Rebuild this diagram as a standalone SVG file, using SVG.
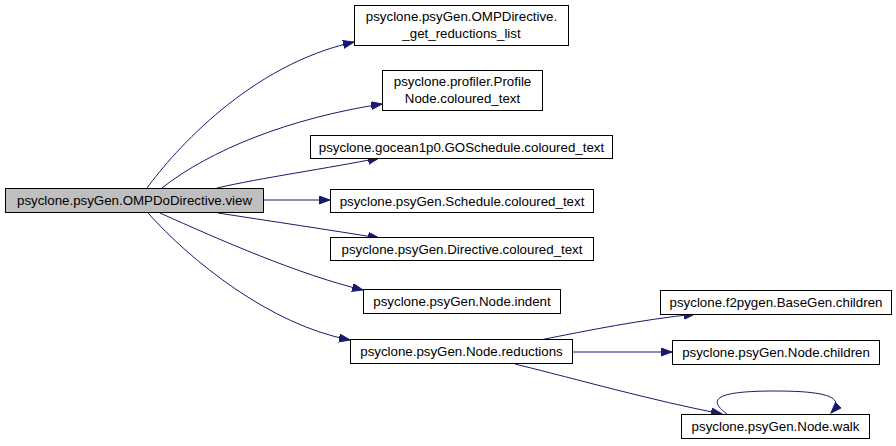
<svg xmlns="http://www.w3.org/2000/svg" width="896" height="446" viewBox="0 0 896 446">
<defs>
<style>
.n rect{fill:#fff;stroke:#000;stroke-width:1}
.n text{font-family:"Liberation Sans",Arial,sans-serif;font-size:13.3px;text-anchor:middle;fill:#000}
.e path{fill:none;stroke:#191970;stroke-width:1}
</style>
<marker id="a" markerUnits="userSpaceOnUse" markerWidth="12" markerHeight="9" refX="11" refY="4" orient="auto">
<path d="M0,0 L11,4 L0,8 z" fill="#191970" stroke="#191970"/>
</marker>
</defs>
<rect width="896" height="446" fill="#fff"/>
<g class="e">
<path d="M147,188 C175,150 250,65 354,42" marker-end="url(#a)"/>
<path d="M162,188 C210,150 290,118 382,104" marker-end="url(#a)"/>
<path d="M217,188 C260,178 330,168 379,158" marker-end="url(#a)"/>
<path d="M263,200 L330,200" marker-end="url(#a)"/>
<path d="M218,213 C270,221 330,230 379,238" marker-end="url(#a)"/>
<path d="M160,213 C220,240 300,275 363,290" marker-end="url(#a)"/>
<path d="M148,213 C190,260 270,325 350,340" marker-end="url(#a)"/>
<path d="M540,340 C590,330 640,320 695,314" marker-end="url(#a)"/>
<path d="M572,352 L672,352" marker-end="url(#a)"/>
<path d="M515,364 C580,380 650,400 722,414" marker-end="url(#a)"/>
<path d="M727,414 C705,398 720,391 775,391 C830,391 845,398 831,413" marker-end="url(#a)"/>
</g>
<g id="view" class="n"><rect x="5.5" y="188.5" width="258" height="24" style="fill:#bfbfbf"/><text x="134.5" y="205">psyclone.psyGen.OMPDoDirective.view</text></g>
<g id="getred" class="n"><rect x="354.5" y="5.5" width="214" height="40"/><text x="461.5" y="21">psyclone.psyGen.OMPDirective.</text><text x="461.5" y="38">_get_reductions_list</text></g>
<g id="profile" class="n"><rect x="382.5" y="70.5" width="160" height="40"/><text x="462.5" y="86">psyclone.profiler.Profile</text><text x="462.5" y="103">Node.coloured_text</text></g>
<g id="gosched" class="n"><rect x="310.5" y="135.5" width="302" height="23"/><text x="461.5" y="152">psyclone.gocean1p0.GOSchedule.coloured_text</text></g>
<g id="sched" class="n"><rect x="330.5" y="189.5" width="263" height="23"/><text x="462" y="206">psyclone.psyGen.Schedule.coloured_text</text></g>
<g id="directive" class="n"><rect x="330.5" y="237.5" width="263" height="23"/><text x="462" y="254">psyclone.psyGen.Directive.coloured_text</text></g>
<g id="indent" class="n"><rect x="363.5" y="289.5" width="197" height="24"/><text x="462" y="306">psyclone.psyGen.Node.indent</text></g>
<g id="reductions" class="n"><rect x="350.5" y="339.5" width="222" height="24"/><text x="461.5" y="356">psyclone.psyGen.Node.reductions</text></g>
<g id="basegen" class="n"><rect x="660.5" y="290.5" width="231" height="24"/><text x="776" y="307">psyclone.f2pygen.BaseGen.children</text></g>
<g id="nodechildren" class="n"><rect x="672.5" y="340.5" width="207" height="24"/><text x="776" y="357">psyclone.psyGen.Node.children</text></g>
<g id="walk" class="n"><rect x="681.5" y="414.5" width="188" height="24"/><text x="775.5" y="431">psyclone.psyGen.Node.walk</text></g>
</svg>
